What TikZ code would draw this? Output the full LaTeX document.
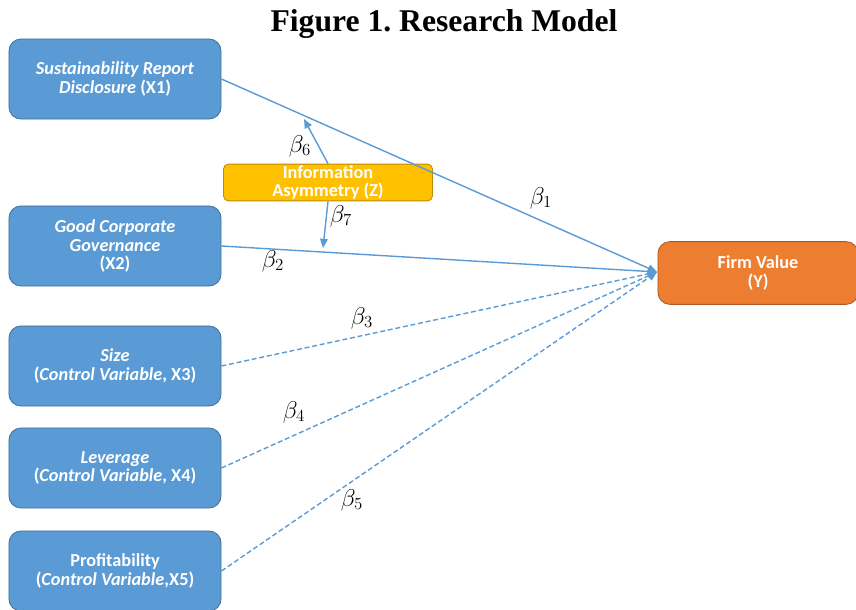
\documentclass[tikz,border=0pt]{standalone}
\usepackage{fontspec}
\setmainfont{Liberation Serif}
\newfontfamily\boxfont{Carlito}
\usetikzlibrary{arrows.meta}
\frenchspacing
\definecolor{varblue}{HTML}{5B9BD5}
\definecolor{varblueedge}{HTML}{41719C}
\definecolor{infoyellow}{HTML}{FFC000}
\definecolor{infoedge}{HTML}{BC8C00}
\definecolor{valueorange}{HTML}{ED7D31}
\definecolor{valueedge}{HTML}{AE5A21}

\begin{document}
\begin{tikzpicture}[x=0.025cm, y=-0.025cm,
	varbox/.style={draw=varblueedge, fill=varblue, rounded corners=0.3cm, line width=0.6pt,
		minimum width=5.3cm, minimum height=2.0cm, align=center, text=white,
		font=\boxfont\bfseries\fontsize{13}{13.4}\selectfont},
	path/.style={draw=varblue, line width=1pt, -{Triangle[length=6.5pt,width=5.5pt]}},
	ctrl/.style={path, dash pattern=on 3.5pt off 2pt},
	beta/.style={font=\fontsize{17}{19}\selectfont}]
	%%%%% START %%%%%
	
	\useasboundingbox (0,0) rectangle (856,610);
	\node[font=\bfseries\fontsize{22.5}{26}\selectfont] (title) at (444,24) {Figure 1. Research Model};
	
	\node[varbox] (x1) at (115,79) {\textit{Sustainability Report}\\\textit{Disclosure} (X1)};
	\node[varbox] (x2) at (115,246) {\textit{Good Corporate}\\\textit{Governance}\\(X2)};
	\node[varbox] (x3) at (115,366) {\textit{Size}\\(\textit{Control Variable}, X3)};
	\node[varbox] (x4) at (115,468) {\textit{Leverage}\\(\textit{Control Variable}, X4)};
	\node[varbox] (x5) at (115,571) {Profitability\\(\textit{Control Variable},X5)};
	
	\node[draw=infoedge, fill=infoyellow, rounded corners=0.12cm, line width=0.6pt,
		minimum width=5.22cm, minimum height=0.92cm, align=center, text=white, inner sep=1pt,
		font=\boxfont\bfseries\fontsize{13}{12.8}\selectfont] (z) at (328,182.5) {Information\\Asymmetry (Z)};
	
	\node[draw=valueedge, fill=valueorange, rounded corners=0.3cm, line width=0.6pt,
		minimum width=5cm, minimum height=1.57cm, align=center, text=white,
		font=\boxfont\bfseries\fontsize{13}{13.4}\selectfont] (y) at (758,273) {Firm Value\\(Y)};
	
	\coordinate (tip) at (657,272);
	\coordinate (m6) at (304,119);
	\coordinate (m7) at (323,248);
	
	\draw[path] (x1.east) -- (tip);
	\draw[path] (x2.east) -- (tip);
	\draw[ctrl] (x3.east) -- (tip);
	\draw[ctrl] (x4.east) -- (tip);
	\draw[ctrl] (x5.east) -- (tip);
	
	\draw[path] (z.north) -- (m6);
	\draw[path] (z.south) -- (m7);
	
	\node[beta] (b1) at (541,198) {$\beta_1$};
	\node[beta] (b2) at (273,261) {$\beta_2$};
	\node[beta] (b3) at (362,318) {$\beta_3$};
	\node[beta] (b4) at (294,412) {$\beta_4$};
	\node[beta] (b5) at (352,500) {$\beta_5$};
	\node[beta] (b6) at (300,146) {$\beta_6$};
	\node[beta] (b7) at (341,216) {$\beta_7$};
	
	%%%%% END %%%%%
\end{tikzpicture}
\end{document}
